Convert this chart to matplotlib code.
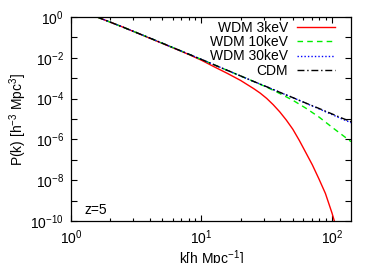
import math
import matplotlib
matplotlib.use("Agg")
import matplotlib.pyplot as plt
from matplotlib.ticker import FixedLocator, FuncFormatter, LogLocator, NullFormatter

plt.rcParams['font.family'] = ['Liberation Sans', 'DejaVu Sans']
plt.rcParams['mathtext.fontset'] = 'custom'
plt.rcParams['mathtext.rm'] = 'Liberation Sans'
plt.rcParams['mathtext.it'] = 'Liberation Sans:italic'
plt.rcParams['font.size'] = 10

# k in h/Mpc, P(k) in (Mpc/h)^3 (z=5)
k_vals = [1.585, 2.512, 3.981, 6.310, 10.0, 15.85, 25.12, 31.62, 39.81, 50.12,
          63.10, 79.43, 100.0, 117.5, 140.0]
p_cdm = [1.0, 0.316, 0.0955, 0.0282, 8.32e-3, 2.40e-3, 6.92e-4, 3.80e-4, 2.04e-4,
         1.12e-4, 6.03e-5, 3.31e-5, 1.78e-5, 1.15e-5, 7.41e-6]
p_wdm30 = [1.0, 0.316, 0.0955, 0.0282, 8.32e-3, 2.40e-3, 6.92e-4, 3.80e-4, 2.04e-4,
           1.12e-4, 5.89e-5, 3.16e-5, 1.66e-5, 1.05e-5, 6.61e-6]
p_wdm10 = [1.0, 0.316, 0.0955, 0.0282, 8.32e-3, 2.40e-3, 6.92e-4, 3.63e-4, 1.78e-4,
           8.32e-5, 3.39e-5, 1.26e-5, 3.98e-6, 1.82e-6, 7.76e-7]

k_wdm3 = [1.585, 2.512, 3.981, 6.310, 7.943, 10.0, 12.59, 15.85, 19.95, 25.12, 28.18,
          31.62, 35.48, 39.81, 44.67, 50.12, 56.23, 63.10, 70.79, 79.43, 89.13, 100.0, 107.2]
p_wdm3 = [1.0, 0.316, 0.0933, 0.0275, 0.01479, 7.59e-3, 3.55e-3, 1.70e-3, 7.76e-4,
          3.09e-4, 1.86e-4, 1.02e-4, 5.01e-5, 2.24e-5, 8.91e-6, 3.16e-6, 8.91e-7,
          2.24e-7, 5.62e-8, 1.17e-8, 2.24e-9, 2.51e-10, 5.62e-11]

labels = ['WDM 3keV', 'WDM 10keV', 'WDM 30keV', 'CDM']

fig = plt.figure(figsize=(3.75, 2.63), dpi=100)
ax = fig.add_axes([0.1893, 0.1597, 0.7467, 0.7757])

ax.loglog(k_wdm3, p_wdm3, color='#ff0000', lw=1.0, label=labels[0])
ax.loglog(k_vals, p_wdm10, color='#00ee00', lw=1.0, ls=(0, (4, 3)), label=labels[1])
ax.loglog(k_vals, p_wdm30, color='#0000ff', lw=1.0, ls=(0, (1, 1.5)), label=labels[2])
ax.loglog(k_vals, p_cdm, color='black', lw=1.0, ls=(0, (5, 2, 1, 2)), label=labels[3])

ax.set_xlim(1, 140)
ax.set_ylim(1e-10, 1)

ax.xaxis.set_major_locator(LogLocator(base=10))
ax.xaxis.set_minor_locator(LogLocator(base=10, subs=range(2, 10)))
ax.xaxis.set_minor_formatter(NullFormatter())

ax.yaxis.set_major_locator(FixedLocator([10.0 ** e for e in range(-10, 1)]))
ax.yaxis.set_minor_locator(FixedLocator([]))


def ylab(v, pos):
    e = int(round(math.log10(v)))
    return r'$\mathdefault{10^{%d}}$' % e if e % 2 == 0 else ''


ax.yaxis.set_major_formatter(FuncFormatter(ylab))

ax.tick_params(which='both', direction='in', top=True, right=True, width=0.8)
ax.tick_params(which='major', length=4, pad=5)
ax.tick_params(which='minor', length=2)
for s in ax.spines.values():
    s.set_linewidth(0.9)

ax.set_xlabel(r'k[h Mpc$^{-1}$]', labelpad=1)
ax.set_ylabel(r'P(k) [h$^{-3}$ Mpc$^{3}$]', labelpad=1)

ax.text(0.05, 0.02, 'z=5', transform=ax.transAxes, ha='left', va='bottom')

ax.legend(loc='upper right', frameon=False, markerfirst=False, handlelength=2.7,
          handletextpad=0.65, labelspacing=0.03, borderaxespad=0.3,
          bbox_to_anchor=(0.976, 1.03), fontsize=10)

fig.savefig('out.png', dpi=100)
